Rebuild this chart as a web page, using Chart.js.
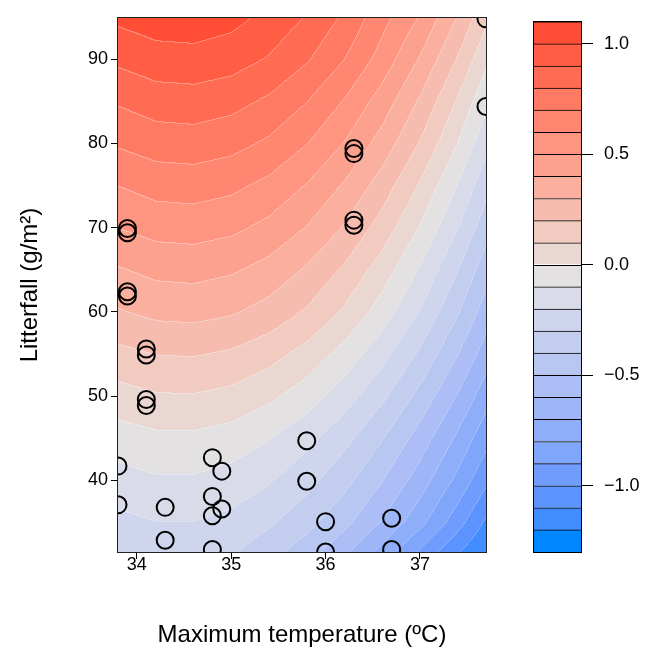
<!DOCTYPE html>
<html><head><meta charset="utf-8">
<script src="https://cdn.jsdelivr.net/npm/chart.js@4.4.1/dist/chart.umd.min.js"></script>
<style>
html,body{margin:0;padding:0;background:#fff;}
#wrap{position:relative;width:646px;height:652px;}
canvas{position:absolute;left:0;top:0;}
</style></head><body>
<div id="wrap"><canvas id="main" width="646" height="652"></canvas><canvas id="bar" width="646" height="652"></canvas></div>
<script>
// Observed sites: maximum temperature (ºC) and litterfall (g/m2)
const tempPoints   = [37.7, 37.7, 36.3, 36.3, 36.3, 36.3, 33.9, 33.9, 33.9, 33.9, 34.1, 34.1, 34.1, 34.1, 35.8, 35.8, 34.8, 34.9, 33.8, 33.8, 34.8, 34.3, 34.9, 34.8, 34.3, 34.8, 36.0, 36.0, 36.7, 36.7];
const litterPoints = [94.8, 84.4, 79.4, 78.8, 70.9, 70.3, 69.9, 69.4, 62.4, 61.9, 55.6, 54.9, 49.6, 48.9, 44.7, 39.9, 42.7, 41.1, 41.7, 37.1, 38.1, 36.8, 36.6, 35.8, 32.9, 31.8, 35.1, 31.5, 35.5, 31.8];

// Surface values (rows = litterfall, columns = temperature)
const gridTemp   = [33.8, 34.2, 34.6, 35.0, 35.4, 35.8, 36.2, 36.6, 37.0, 37.4, 37.7];
const gridLitter = [31.5, 35, 40, 45, 50, 55, 60, 65, 70, 75, 80, 85, 90, 94.9];
const gridEffect = [
  [-0.28, -0.255, -0.257, -0.288, -0.36, -0.456, -0.576, -0.735, -0.917, -1.094, -1.21],
  [-0.23, -0.203, -0.203, -0.230, -0.285, -0.366, -0.474, -0.609, -0.771, -0.961, -1.12],
  [-0.14, -0.114, -0.114, -0.140, -0.191, -0.267, -0.370, -0.497, -0.650, -0.829, -0.98],
  [-0.05, -0.023, -0.022, -0.046, -0.096, -0.170, -0.270, -0.396, -0.546, -0.722, -0.871],
  [0.06, 0.089, 0.092, 0.070, 0.021, -0.053, -0.154, -0.280, -0.432, -0.610, -0.76],
  [0.17, 0.201, 0.206, 0.184, 0.136, 0.062, -0.039, -0.166, -0.319, -0.499, -0.651],
  [0.29, 0.324, 0.331, 0.310, 0.262, 0.186, 0.083, -0.048, -0.207, -0.393, -0.55],
  [0.39, 0.425, 0.432, 0.411, 0.363, 0.286, 0.182, 0.049, -0.111, -0.299, -0.46],
  [0.50, 0.535, 0.542, 0.521, 0.472, 0.394, 0.288, 0.154, -0.008, -0.199, -0.36],
  [0.60, 0.636, 0.643, 0.622, 0.572, 0.493, 0.386, 0.251, 0.087, -0.106, -0.27],
  [0.71, 0.746, 0.753, 0.731, 0.681, 0.601, 0.493, 0.356, 0.190, -0.005, -0.17],
  [0.81, 0.847, 0.854, 0.832, 0.781, 0.701, 0.591, 0.452, 0.284, 0.087, -0.08],
  [0.92, 0.957, 0.964, 0.942, 0.890, 0.809, 0.698, 0.558, 0.388, 0.189, 0.02],
  [1.02, 1.05, 1.055, 1.03, 0.97, 0.89, 0.78, 0.63, 0.49, 0.29, 0.12]
];

// Contour level boundaries and colour key
const levels = [-1.3, -1.2, -1.1, -1.0, -0.9, -0.8, -0.7, -0.6, -0.5, -0.4, -0.3, -0.2, -0.1, 0.0, 0.1, 0.2, 0.3, 0.4, 0.5, 0.6, 0.7, 0.8, 0.9, 1.0, 1.1];
const bandColors = ['#0087FF', '#418CFF', '#5C94FF', '#709DFD', '#80A6FB', '#8FAEF9', '#9EB6F7', '#ACBEF5', '#B8C7F2', '#C3CEEF', '#CED5EC', '#D9DCE8', '#E3E1E1', '#EBD7D2', '#F1CAC0', '#F6BCAF', '#FAAF9F', '#FDA18F', '#FF9480', '#FF8771', '#FF7A62', '#FF6C53', '#FF5D44', '#FF4D36'];
const colorbarTicks = [1.0, 0.5, 0.0, -0.5, -1.0];
const xTicks = [34, 35, 36, 37];
const yTicks = [40, 50, 60, 70, 80, 90];

const FAMILY = '"Liberation Sans", Arial, Helvetica, sans-serif';
Chart.defaults.font.family = FAMILY;
Chart.defaults.color = '#000';

function clamp(v, a, b) { return v < a ? a : (v > b ? b : v); }
function fieldAt(T, L) {
  let i = 0; while (i < gridTemp.length - 2 && T > gridTemp[i + 1]) i++;
  let j = 0; while (j < gridLitter.length - 2 && L > gridLitter[j + 1]) j++;
  const tx = clamp((T - gridTemp[i]) / (gridTemp[i + 1] - gridTemp[i]), 0, 1);
  const ty = clamp((L - gridLitter[j]) / (gridLitter[j + 1] - gridLitter[j]), 0, 1);
  const z00 = gridEffect[j][i], z10 = gridEffect[j][i + 1], z01 = gridEffect[j + 1][i], z11 = gridEffect[j + 1][i + 1];
  return (1 - ty) * ((1 - tx) * z00 + tx * z10) + ty * ((1 - tx) * z01 + tx * z11);
}
function hexRgb(h) { return [parseInt(h.slice(1, 3), 16), parseInt(h.slice(3, 5), 16), parseInt(h.slice(5, 7), 16)]; }
const bandRgb = bandColors.map(hexRgb);
function bandOf(z) {
  let b = 0;
  while (b < levels.length - 2 && z >= levels[b + 1]) b++;
  return b;
}

const fieldPlugin = {
  id: 'field',
  beforeDatasetsDraw(chart) {
    const { left, top, right, bottom } = chart.chartArea;
    const w = Math.round(right - left), h = Math.round(bottom - top);
    const xs = chart.scales.x, ys = chart.scales.y;
    const off = document.createElement('canvas'); off.width = w; off.height = h;
    const octx = off.getContext('2d');
    const img = octx.createImageData(w, h);
    const bands = new Int16Array(w * h);
    for (let py = 0; py < h; py++) {
      const L = ys.getValueForPixel(top + py + 0.5);
      for (let px = 0; px < w; px++) {
        const T = xs.getValueForPixel(left + px + 0.5);
        bands[py * w + px] = bandOf(fieldAt(T, L));
      }
    }
    for (let py = 0; py < h; py++) {
      for (let px = 0; px < w; px++) {
        const k = py * w + px, b = bands[k];
        const c = bandRgb[b];
        const edge = (px > 0 && bands[k - 1] !== b) || (py > 0 && bands[k - w] !== b);
        const f = edge ? 0.28 : 0;
        img.data[k * 4] = Math.round(c[0] + (255 - c[0]) * f);
        img.data[k * 4 + 1] = Math.round(c[1] + (255 - c[1]) * f);
        img.data[k * 4 + 2] = Math.round(c[2] + (255 - c[2]) * f);
        img.data[k * 4 + 3] = 255;
      }
    }
    octx.putImageData(img, 0, 0);
    chart.ctx.drawImage(off, left, top);
  },
  afterDraw(chart) {
    const { left, top, right, bottom } = chart.chartArea;
    const ctx = chart.ctx;
    ctx.save();
    ctx.strokeStyle = '#222';
    ctx.lineWidth = 1;
    ctx.strokeRect(Math.round(left) - 0.5, Math.round(top) - 0.5, Math.round(right - left) + 1, Math.round(bottom - top) + 1);
    ctx.restore();
  }
};

const points = tempPoints.map((t, i) => ({ x: t, y: litterPoints[i] }));

new Chart(document.getElementById('main'), {
  type: 'scatter',
  data: { datasets: [{
    data: points,
    pointRadius: 8.5,
    pointHoverRadius: 8.5,
    pointBorderWidth: 2,
    borderColor: '#000',
    backgroundColor: 'rgba(0,0,0,0)',
    clip: 0
  }] },
  options: {
    responsive: false, animation: false, devicePixelRatio: 1,
    events: [],
    layout: { padding: { top: 18, right: 160, left: 0, bottom: 0 } },
    plugins: { legend: { display: false }, tooltip: { enabled: false } },
    scales: {
      x: {
        type: 'linear', min: 33.8, max: 37.7,
        afterBuildTicks: s => { s.ticks = xTicks.map(v => ({ value: v })); },
        afterFit: s => { s.height = 100; },
        ticks: { font: { size: 18 }, color: '#000', padding: -5, maxRotation: 0, callback: v => String(v) },
        grid: { drawOnChartArea: false, drawTicks: true, tickLength: 7, color: '#000' },
        border: { display: false },
        title: { display: true, text: 'Maximum temperature (ºC)', font: { size: 24 }, color: '#000', padding: { top: 0, bottom: 2 } }
      },
      y: {
        type: 'linear', min: 31.5, max: 94.9,
        afterBuildTicks: s => { s.ticks = yTicks.map(v => ({ value: v })); },
        afterFit: s => { s.width = 118; },
        ticks: { font: { size: 18 }, color: '#000', padding: 3, callback: v => String(v) },
        grid: { drawOnChartArea: false, drawTicks: true, tickLength: 7, color: '#000' },
        border: { display: false },
        title: { display: true, text: 'Litterfall (g/m²)', font: { size: 24 }, color: '#000', padding: { top: 16, bottom: 0 } }
      }
    }
  },
  plugins: [fieldPlugin]
});

const boxPlugin = {
  id: 'cbbox',
  afterDatasetsDraw(chart) {
    const { left, top, right, bottom } = chart.chartArea;
    const ctx = chart.ctx;
    ctx.save();
    ctx.strokeStyle = '#000';
    ctx.lineWidth = 1;
    ctx.strokeRect(Math.round(left) - 0.5, Math.round(top) - 0.5, Math.round(right - left) + 1, Math.round(bottom - top) + 1);
    ctx.restore();
  }
};

new Chart(document.getElementById('bar'), {
  type: 'bar',
  data: {
    labels: [''],
    datasets: bandColors.map((c, i) => ({
      data: [[levels[i], levels[i + 1]]],
      backgroundColor: c,
      borderColor: '#000',
      borderWidth: { top: 1, bottom: 0, left: 0, right: 0 },
      borderSkipped: false,
      barPercentage: 1,
      categoryPercentage: 1
    }))
  },
  options: {
    responsive: false, animation: false, devicePixelRatio: 1,
    events: [],
    layout: { padding: { top: 18, right: 0, left: 534, bottom: 100 } },
    plugins: { legend: { display: false }, tooltip: { enabled: false } },
    scales: {
      x: { display: false, stacked: true, offset: true },
      y: {
        position: 'right', min: -1.3, max: 1.1, stacked: false,
        afterBuildTicks: s => { s.ticks = colorbarTicks.map(v => ({ value: v })); },
        afterFit: s => { s.width = 65; },
        ticks: { font: { size: 18 }, color: '#000', padding: 11,
          callback: v => (v < -1e-9 ? '\u2212' : '') + Math.abs(v).toFixed(1) },
        grid: { drawOnChartArea: false, drawTicks: true, tickLength: 12, color: '#000' },
        border: { display: false }
      }
    }
  },
  plugins: [boxPlugin]
});
</script>
</body></html>
